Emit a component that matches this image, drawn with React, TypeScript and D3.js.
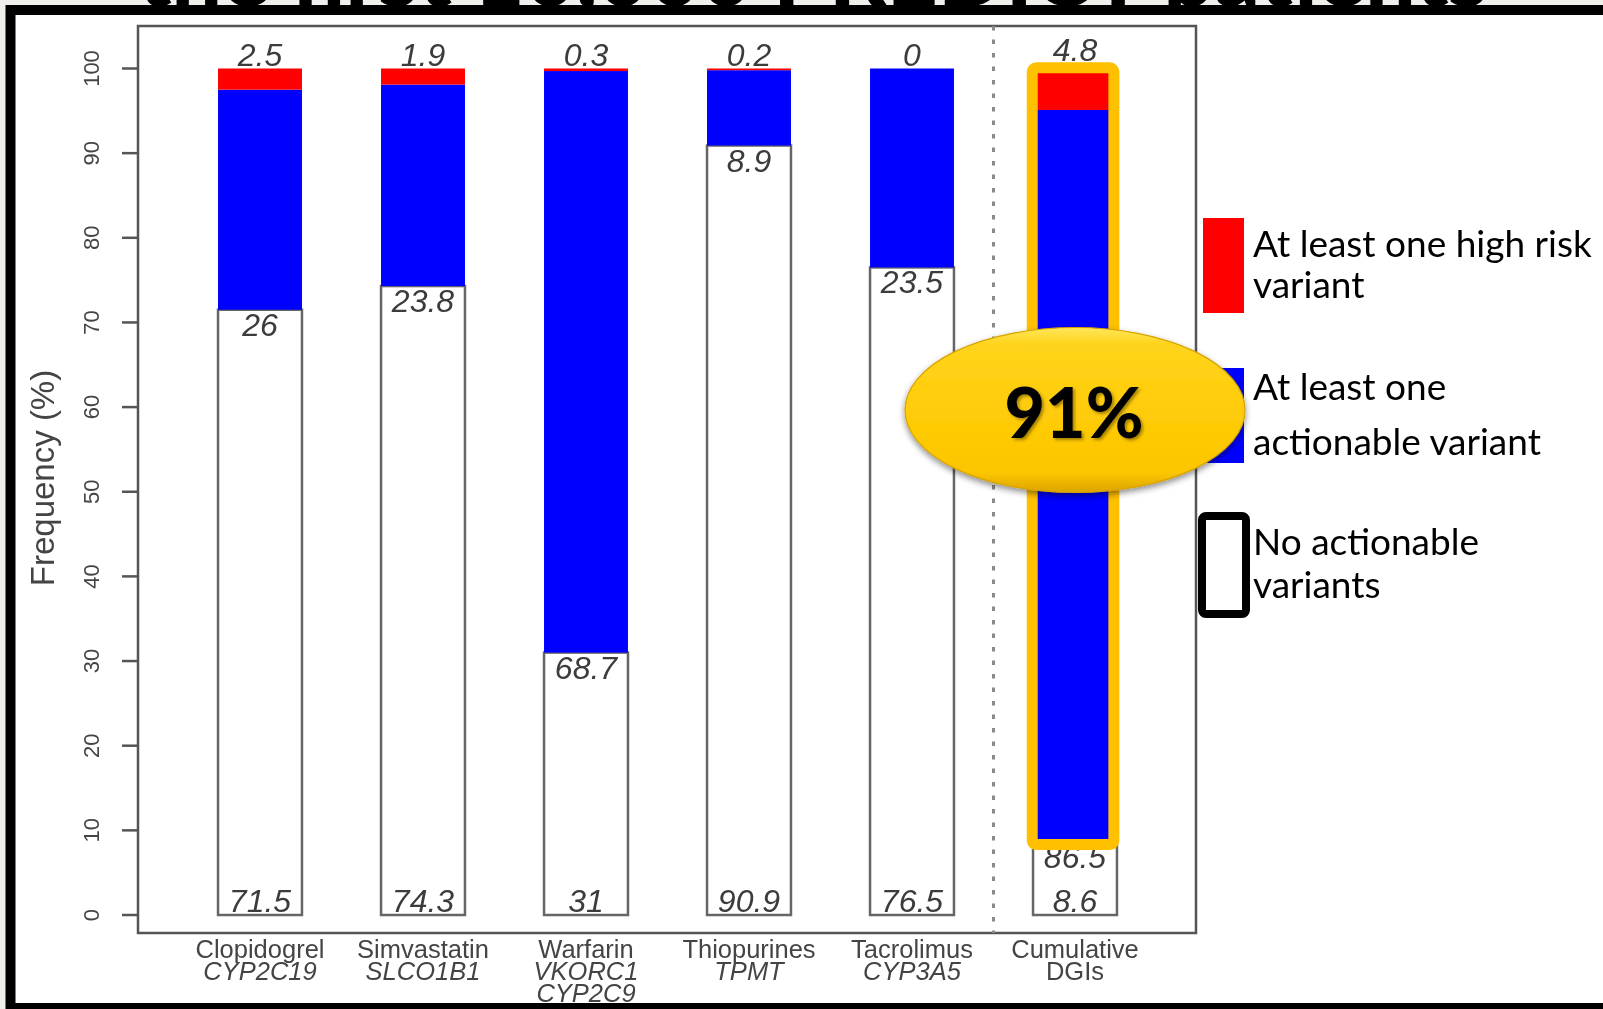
import React from "react";
import * as d3 from "d3";

// Drug–gene pairs shown along the x axis
const categories = ["Clopidogrel", "Simvastatin", "Warfarin", "Thiopurines", "Tacrolimus", "Cumulative"];
const geneLines = [["CYP2C19"], ["SLCO1B1"], ["VKORC1", "CYP2C9"], ["TPMT"], ["CYP3A5"], ["DGIs"]];
const geneItalic = [true, true, true, true, true, false];

// Percent of patients in each group (stacked bottom → top)
const noActionable = [71.5, 74.3, 31, 90.9, 76.5, 8.6];
const actionable = [26, 23.8, 68.7, 8.9, 23.5, 86.5];
const highRisk = [2.5, 1.9, 0.3, 0.2, 0, 4.8];

const yTicks = [0, 10, 20, 30, 40, 50, 60, 70, 80, 90, 100];
const yTitle = "Frequency (%)";
const highlighted = "Cumulative";
const calloutText = "91%";
const headline = "the first 10,000 PREDICT patients";

const legendItems = [
  { key: "high", color: "#ff0000", lines: ["At least one high risk", "variant"] },
  { key: "act", color: "#0000ff", lines: ["At least one", "actionable variant"] },
  { key: "none", color: "#ffffff", lines: ["No actionable", "variants"] },
];

const W = 1603;
const H = 1009;
const AX = "#444";
const SANS = "'Liberation Sans', Arial, Helvetica, sans-serif";
const HUMAN = "Lato, 'Open Sans', sans-serif";

export default function App() {
  const y = d3.scaleLinear().domain([0, 100]).range([915, 68.5]);
  const x = d3
    .scaleBand<string>()
    .domain(categories)
    .range([178.5, 1156.5])
    .paddingInner(0.485)
    .paddingOuter(0.2425);
  const bw = x.bandwidth();

  const rows = categories.map((c, i) => ({
    cat: c,
    none: noActionable[i],
    act: actionable[i],
    high: highRisk[i],
  }));
  const stacked = d3.stack<any>().keys(["none", "act", "high"])(rows);
  const colorOf: Record<string, string> = { none: "#ffffff", act: "#0000ff", high: "#ff0000" };

  const box = { left: 138, top: 26, right: 1196, bottom: 933 };
  const sepX = (x("Tacrolimus")! + bw + x("Cumulative")!) / 2;

  const hx = x(highlighted)!;
  const hi = categories.indexOf(highlighted);
  const hTop = y(noActionable[hi] + actionable[hi] + highRisk[hi]) - 1.5;
  const hBot = y(noActionable[hi]) + 2.3;

  const legendLayout = [
    { rect: { x: 1203, y: 218, w: 41, h: 95 }, base: [257, 298] },
    { rect: { x: 1203, y: 368, w: 41, h: 95 }, base: [400, 455] },
    { rect: { x: 1202, y: 516, w: 44, h: 98 }, base: [555, 598] },
  ];

  const ell = { cx: 1075, cy: 410, rx: 170, ry: 82.5 };

  return (
    <svg
      width={W}
      height={H}
      viewBox={`0 0 ${W} ${H}`}
      style={{ position: "fixed", left: 0, top: 0 }}
    >
      <defs>
        <linearGradient id="gold" x1="0" y1="0" x2="0" y2="1">
          <stop offset="0" stopColor="#ffe65a" />
          <stop offset="0.1" stopColor="#ffd41c" />
          <stop offset="0.5" stopColor="#ffcc08" />
          <stop offset="0.88" stopColor="#fcc600" />
          <stop offset="1" stopColor="#dca400" />
        </linearGradient>
        <filter id="ellShadow" x="-20%" y="-20%" width="140%" height="150%">
          <feDropShadow dx="0" dy="3" stdDeviation="3" floodColor="#000" floodOpacity="0.45" />
        </filter>
        <filter id="txtShadow" x="-20%" y="-20%" width="140%" height="140%">
          <feDropShadow dx="2" dy="2" stdDeviation="1.8" floodColor="#5a4500" floodOpacity="0.55" />
        </filter>
      </defs>

      {/* page background and slide frame */}
      <rect x={0} y={0} width={W} height={H} fill="#f1efeb" />
      <text
        x={138}
        y={6}
        fontFamily={HUMAN}
        fontWeight={900}
        fontSize={88}
        textLength={1350}
        lengthAdjust="spacingAndGlyphs"
        fill="#000"
      >
        {headline}
      </text>
      <rect x={10.5} y={10} width={1700} height={998} fill="#fff" stroke="#000" strokeWidth={10} />

      {/* plot box */}
      <rect
        x={box.left}
        y={box.top}
        width={box.right - box.left}
        height={box.bottom - box.top}
        fill="#fff"
        stroke="#555"
        strokeWidth={2.5}
      />

      {/* y axis */}
      {yTicks.map((t) => (
        <g key={t}>
          <line x1={122} x2={box.left} y1={y(t)} y2={y(t)} stroke="#555" strokeWidth={2.5} />
          <text
            transform={`translate(91,${y(t)}) rotate(-90)`}
            textAnchor="middle"
            dominantBaseline="central"
            fontFamily={SANS}
            fontSize={22}
            fill={AX}
          >
            {t}
          </text>
        </g>
      ))}
      <text
        transform={`translate(42,478) rotate(-90)`}
        textAnchor="middle"
        dominantBaseline="central"
        fontFamily={SANS}
        fontSize={33}
        fill={AX}
      >
        {yTitle}
      </text>

      {/* separator before cumulative bar */}
      <line
        x1={sepX}
        x2={sepX}
        y1={box.top}
        y2={box.bottom}
        stroke="#8a8a8a"
        strokeWidth={3}
        strokeDasharray="4.5 9"
      />

      {/* stacked bars */}
      {stacked.map((layer) =>
        layer.map((d, i) => {
          const cat = categories[i];
          const x0 = x(cat)!;
          const top = y(d[1]);
          const h = y(d[0]) - y(d[1]);
          if (layer.key === "none") {
            return (
              <rect
                key={`${layer.key}-${cat}`}
                x={x0}
                y={top}
                width={bw}
                height={h}
                fill="#fff"
                stroke="#666"
                strokeWidth={2.5}
              />
            );
          }
          return (
            <rect
              key={`${layer.key}-${cat}`}
              x={x0}
              y={top}
              width={bw}
              height={Math.max(h, 0)}
              fill={colorOf[layer.key]}
            />
          );
        })
      )}

      {/* value labels */}
      {categories.map((c, i) => {
        const cx = x(c)! + bw / 2;
        const total = noActionable[i] + actionable[i] + highRisk[i];
        const lift = c === highlighted ? 5 : 0;
        const common = {
          textAnchor: "middle" as const,
          fontFamily: SANS,
          fontStyle: "italic",
          fontSize: 32,
          fill: "#3c3c3c",
        };
        return (
          <g key={`lab-${c}`}>
            <text x={cx} y={y(total) - 3 - lift} {...common}>
              {highRisk[i]}
            </text>
            <text x={cx} y={y(noActionable[i]) + 26} {...common}>
              {actionable[i]}
            </text>
            <text x={cx} y={y(0) - 3.5} {...common}>
              {noActionable[i]}
            </text>
          </g>
        );
      })}

      {/* category labels */}
      {categories.map((c, i) => {
        const cx = x(c)! + bw / 2;
        return (
          <g key={`cat-${c}`} fontFamily={SANS} fontSize={25.5} fill={AX} textAnchor="middle">
            <text x={cx} y={958}>
              {c}
            </text>
            {geneLines[i].map((g, j) => (
              <text key={g} x={cx} y={980 + j * 22} fontStyle={geneItalic[i] ? "italic" : "normal"}>
                {g}
              </text>
            ))}
          </g>
        );
      })}

      {/* highlight around the cumulative bar */}
      <rect
        x={hx - 0.8}
        y={hTop}
        width={bw - 2.3}
        height={hBot - hTop}
        rx={4}
        fill="none"
        stroke="#ffc000"
        strokeWidth={11}
      />

      {/* legend */}
      {legendItems.map((item, k) => {
        const L = legendLayout[k];
        const isOutline = item.key === "none";
        return (
          <g key={item.key}>
            <rect
              x={L.rect.x}
              y={L.rect.y}
              width={L.rect.w}
              height={L.rect.h}
              rx={isOutline ? 4 : 0}
              fill={item.color}
              stroke={isOutline ? "#000" : "none"}
              strokeWidth={isOutline ? 8 : 0}
            />
            {item.lines.map((ln, j) => (
              <text key={ln} x={1253} y={L.base[j]} fontFamily={HUMAN} fontSize={37} fill="#000">
                {ln}
              </text>
            ))}
          </g>
        );
      })}

      {/* 91% callout */}
      <ellipse
        cx={ell.cx}
        cy={ell.cy}
        rx={ell.rx}
        ry={ell.ry}
        fill="url(#gold)"
        stroke="#d8a300"
        strokeWidth={1.2}
        filter="url(#ellShadow)"
      />
      <text
        x={ell.cx - 1}
        y={438}
        textAnchor="middle"
        fontFamily={HUMAN}
        fontWeight={900}
        fontSize={70}
        fill="#000"
        filter="url(#txtShadow)"
      >
        {calloutText}
      </text>
    </svg>
  );
}
